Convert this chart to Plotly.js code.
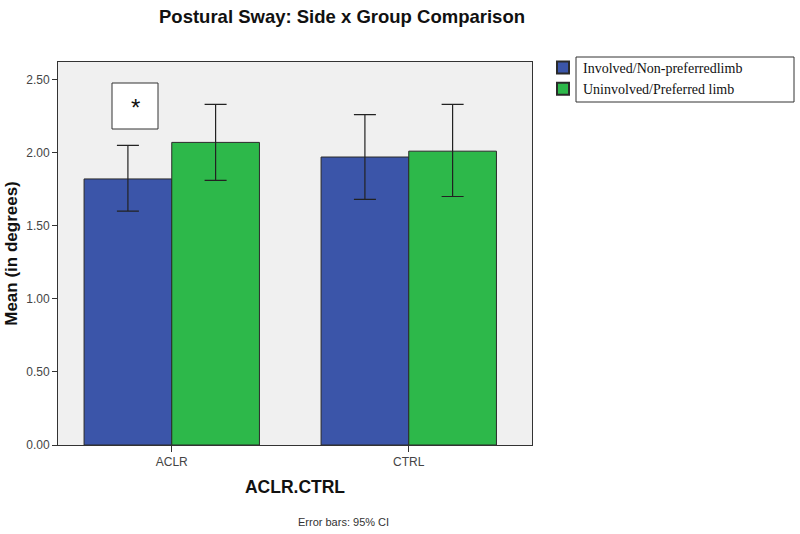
<!DOCTYPE html>
<html><head><meta charset="utf-8">
<script src="https://cdn.plot.ly/plotly-3.0.1.min.js"></script>
<style>body{margin:0;background:#fff}#chart{width:800px;height:534px}</style>
</head><body><div id="chart"></div>
<script>
var groups = ['ACLR', 'CTRL'];
var seriesNames = ['Involved/Non-preferredlimb', 'Uninvolved/Preferred limb'];
var involvedMean = [1.82, 1.97];
var involvedUpper = [2.05, 2.26];
var involvedLower = [1.60, 1.68];
var uninvolvedMean = [2.07, 2.01];
var uninvolvedUpper = [2.33, 2.33];
var uninvolvedLower = [1.81, 1.70];
var yTicks = [0, 0.5, 1.0, 1.5, 2.0, 2.5];

function diff(a, b, sign) { return a.map(function (v, i) { return sign * (v - b[i]); }); }

var traces = [
  {type: 'bar', name: seriesNames[0], x: groups, y: involvedMean,
   marker: {color: '#3b55a9', line: {color: '#2a2a2a', width: 1}},
   error_y: {type: 'data', symmetric: false, array: diff(involvedUpper, involvedMean, 1),
             arrayminus: diff(involvedLower, involvedMean, -1), color: '#222', thickness: 1.2, width: 11}},
  {type: 'bar', name: seriesNames[1], x: groups, y: uninvolvedMean,
   marker: {color: '#2db84a', line: {color: '#2a2a2a', width: 1}},
   error_y: {type: 'data', symmetric: false, array: diff(uninvolvedUpper, uninvolvedMean, 1),
             arrayminus: diff(uninvolvedLower, uninvolvedMean, -1), color: '#222', thickness: 1.2, width: 11}}
];

var layout = {
  width: 800, height: 534,
  margin: {l: 58, r: 268, t: 62, b: 89},
  paper_bgcolor: '#ffffff', plot_bgcolor: '#f0f0f0',
  barmode: 'group', bargap: 0.26, bargroupgap: 0,
  font: {family: 'Arial, Liberation Sans, sans-serif', color: '#222'},
  title: {text: '<b>Postural Sway: Side x Group Comparison</b>', font: {size: 18.5, color: '#111'},
          x: 342 / 800, xanchor: 'center', xref: 'container', y: 1 - 17 / 534, yref: 'container', yanchor: 'middle'},
  xaxis: {type: 'category', range: [-0.48, 1.52], showline: true, linecolor: '#333', linewidth: 1, mirror: true,
          ticks: 'outside', ticklen: 6, tickcolor: '#333', tickfont: {size: 12, color: '#444'},
          title: {text: '<b>ACLR.CTRL</b>', font: {size: 17.5, color: '#111'}, standoff: 12},
          showgrid: false, zeroline: false},
  yaxis: {range: [0, 2.62], tickvals: yTicks, tickformat: '.2f', showline: true, linecolor: '#333',
          linewidth: 1, mirror: true, ticks: 'outside', ticklen: 5, tickcolor: '#333',
          tickfont: {size: 12, color: '#444'}, showgrid: false, zeroline: false,
          title: {text: '<b>Mean (in degrees)</b>', font: {size: 17, color: '#111'}, standoff: 4}},
  legend: {x: (543 - 58) / 474, xanchor: 'left', y: 1 + (62 - 52) / 383, yanchor: 'top', borderwidth: 0,
           bgcolor: 'rgba(0,0,0,0)', font: {family: 'Liberation Serif, Times New Roman, serif', size: 14, color: '#111'},
           tracegroupgap: 0, itemsizing: 'constant'},
  shapes: [
    {type: 'rect', xref: 'paper', yref: 'paper', x0: (112 - 58) / 474, x1: (158 - 58) / 474,
     y0: (445 - 129) / 383, y1: (445 - 83) / 383, line: {color: '#333', width: 1}, fillcolor: '#fff'},
    {type: 'rect', xref: 'paper', yref: 'paper', x0: (576 - 58) / 474, x1: (794 - 58) / 474,
     y0: (445 - 102) / 383, y1: (445 - 57) / 383, line: {color: '#333', width: 1}, fillcolor: 'rgba(0,0,0,0)'}
  ],
  annotations: [
    {text: '*', xref: 'paper', yref: 'paper', x: (129 - 58) / 474, y: (445 - 92) / 383,
     showarrow: false, font: {size: 24, color: '#111'}},
    {text: 'Error bars: 95% CI', xref: 'paper', yref: 'paper', x: (343 - 58) / 474, y: (445 - 522) / 383,
     yanchor: 'middle', showarrow: false, font: {size: 11, color: '#333'}}
  ]
};

Plotly.newPlot('chart', traces, layout, {displayModeBar: false, staticPlot: true});
</script></body></html>
